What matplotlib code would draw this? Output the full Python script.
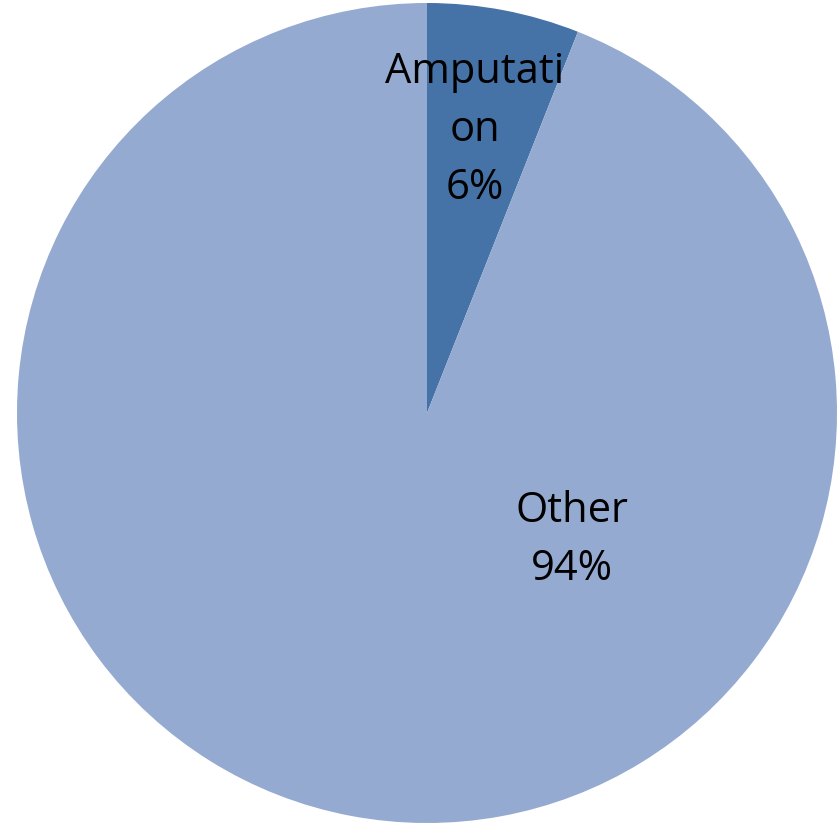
import matplotlib
matplotlib.use('Agg')
import matplotlib.pyplot as plt

labels = ['Amputati\non', 'Other']
values = [6, 94]
colors = ['#4673A7', '#94AAD0']
# label positions in pie units (radius 1)
label_pos = [(0.117, 0.69), (0.354, -0.31)]

fig = plt.figure(figsize=(8.4, 8.23), dpi=100)
ax = fig.add_axes([17 / 840, 0.0, 820 / 840, 820 / 823])
ax.pie(values, colors=colors, startangle=90, counterclock=False,
       radius=1.0, wedgeprops={'linewidth': 0})
ax.set_xlim(-1.0, 1.0)
ax.set_ylim(-1.0, 1.0)
ax.set_aspect('equal')
ax.axis('off')

total = sum(values)
for lab, v, (x, y) in zip(labels, values, label_pos):
    ax.text(x, y, '%s\n%d%%' % (lab, round(100 * v / total)),
            ha='center', va='center', fontsize=30, family='Open Sans',
            linespacing=1.5, color='black')

fig.savefig('out.png', dpi=100)
